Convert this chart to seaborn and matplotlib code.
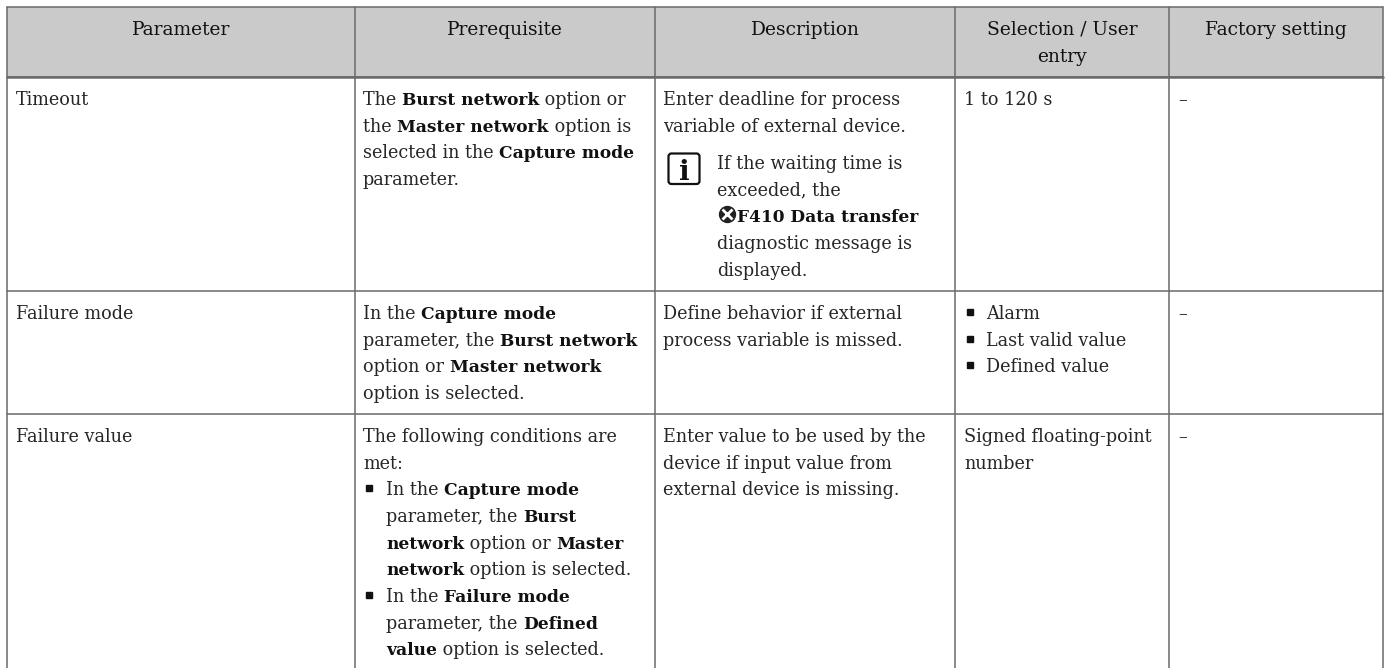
import re
import matplotlib
matplotlib.use('Agg')
import matplotlib.pyplot as plt
import pandas
import seaborn as sns
from matplotlib.patches import FancyBboxPatch

HEADERS = ['Parameter', 'Prerequisite', 'Description', 'Selection / User\nentry', 'Factory setting']
COL_EDGES = [7, 355, 655, 955, 1169, 1383]
ROW_EDGES = [7, 77, 291, 414, 668]

# ** marks bold
PARAMS = ['Timeout', 'Failure mode', 'Failure value']
PREREQ = [
    ['The **Burst network** option or', 'the **Master network** option is',
     'selected in the **Capture mode**', 'parameter.'],
    ['In the **Capture mode**', 'parameter, the **Burst network**',
     'option or **Master network**', 'option is selected.'],
    ['The following conditions are', 'met:'],
]
PREREQ_BULLETS = [
    ['In the **Capture mode**', 'parameter, the **Burst**', '**network** option or **Master**',
     '**network** option is selected.'],
    ['In the **Failure mode**', 'parameter, the **Defined**', '**value** option is selected.'],
]
DESCR = [
    ['Enter deadline for process', 'variable of external device.'],
    ['Define behavior if external', 'process variable is missed.'],
    ['Enter value to be used by the', 'device if input value from', 'external device is missing.'],
]
NOTE = ['If the waiting time is', 'exceeded, the', '**F410 Data transfer**', 'diagnostic message is', 'displayed.']
ENTRY = [['1 to 120 s'], [], ['Signed floating-point', 'number']]
ENTRY_BULLETS = ['Alarm', 'Last valid value', 'Defined value']
FACTORY = ['–', '–', '–']

FIRST_BASE = [105, 319, 442]
PITCH = 26.65
TEXT_COL = '#262626'
BOLD_COL = '#111111'
LINE_COL = '#6a6a6a'
FS = 12.7
FS_BOLD = 12.25
FS_HEAD = 13.4
FONT = 'DejaVu Serif'

sns.set_theme(style='white')
fig = plt.figure(figsize=(13.89, 6.68), dpi=100)
ax = fig.add_axes([0, 0, 1, 1])
ax.axhspan(ROW_EDGES[0], ROW_EDGES[1], xmin=COL_EDGES[0]/1389, xmax=COL_EDGES[-1]/1389,
    color='#cacaca', lw=0, zorder=0)

# grid rules
rules = []
for i, y in enumerate(ROW_EDGES[:-1]):
    rules += [{'x': COL_EDGES[0], 'y': y, 'r': f'h{i}'}, {'x': COL_EDGES[-1], 'y': y, 'r': f'h{i}'}]
for i, x in enumerate(COL_EDGES):
    rules += [{'x': x, 'y': ROW_EDGES[0], 'r': f'v{i}'}, {'x': x, 'y': ROW_EDGES[-1], 'r': f'v{i}'}]
sns.lineplot(data=pandas.DataFrame(rules), x='x', y='y', units='r', estimator=None, sort=False,
    color=LINE_COL, lw=1.1, ax=ax, legend=False)
ax.plot([COL_EDGES[0], COL_EDGES[-1]], [ROW_EDGES[1], ROW_EDGES[1]], color=LINE_COL, lw=1.8)

ax.set_xlim(0, 1389)
ax.set_ylim(668, 0)
ax.axis('off')
renderer = fig.canvas.get_renderer()


def width(s, weight):
    # sentinel so trailing spaces get counted
    fs = FS_BOLD if weight == 'bold' else FS
    t = ax.text(0, 0, s + '|', fontsize=fs, family=FONT, fontweight=weight)
    w = t.get_window_extent(renderer).width
    t.set_text('|')
    w -= t.get_window_extent(renderer).width
    t.remove()
    return w


def draw_line(x, y, line):
    parts = re.split(r'\*\*', line)
    for i, s in enumerate(parts):
        if not s:
            continue
        weight = 'bold' if i % 2 else 'normal'
        ax.text(x, y, s, fontsize=FS_BOLD if i % 2 else FS, family=FONT, fontweight=weight,
            color=BOLD_COL if i % 2 else TEXT_COL, va='baseline')
        x += width(s, weight)


def draw_lines(x, y, lines):
    for i, line in enumerate(lines):
        draw_line(x, y + i*PITCH, line)
    return y + len(lines)*PITCH


def bullet(x, y):
    ax.plot([x], [y - 7], marker='s', ms=5, color='#111111', ls='none')


# header
for i, h in enumerate(HEADERS):
    xc = (COL_EDGES[i] + COL_EDGES[i+1]) / 2
    for j, s in enumerate(h.split('\n')):
        ax.text(xc, 35 + j*PITCH, s, fontsize=FS_HEAD, family=FONT, color=BOLD_COL, ha='center', va='baseline')

x_cols = [16, 363, 663, 964, 1178]
for r in range(3):
    y = FIRST_BASE[r]
    draw_line(x_cols[0], y, PARAMS[r])
    draw_lines(x_cols[1], y, PREREQ[r])
    draw_lines(x_cols[2], y, DESCR[r])
    draw_lines(x_cols[3], y, ENTRY[r])
    draw_line(x_cols[4], y, FACTORY[r])

# bullets, prerequisite column of last row
y = FIRST_BASE[2] + 2*PITCH
for group in PREREQ_BULLETS:
    bullet(369, y)
    y = draw_lines(386, y, group)

# bullets, selection column of second row
for i, s in enumerate(ENTRY_BULLETS):
    yy = FIRST_BASE[1] + i*PITCH
    bullet(970, yy)
    draw_line(986, yy, s)

# note icon and text
ax.add_patch(FancyBboxPatch((668.5, 153.5), 31, 30.5, boxstyle='round,pad=0,rounding_size=3',
    fc='white', ec='#111111', lw=1.6))
ax.text(684, 180, 'i', fontsize=20, family=FONT, fontweight='bold', color='#111111', ha='center', va='baseline')
ny = 169
draw_line(717, ny, NOTE[0])
draw_line(717, ny + PITCH, NOTE[1])
ax.plot([727], [ny + 2*PITCH - 8], marker='o', ms=12.5, color='#222222', ls='none', mew=0)
ax.plot([727], [ny + 2*PITCH - 8], marker='x', ms=6.5, mew=2, color='white', ls='none')
draw_line(737, ny + 2*PITCH, NOTE[2])
draw_line(717, ny + 3*PITCH, NOTE[3])
draw_line(717, ny + 4*PITCH, NOTE[4])

fig.savefig('out.png', dpi=100)
